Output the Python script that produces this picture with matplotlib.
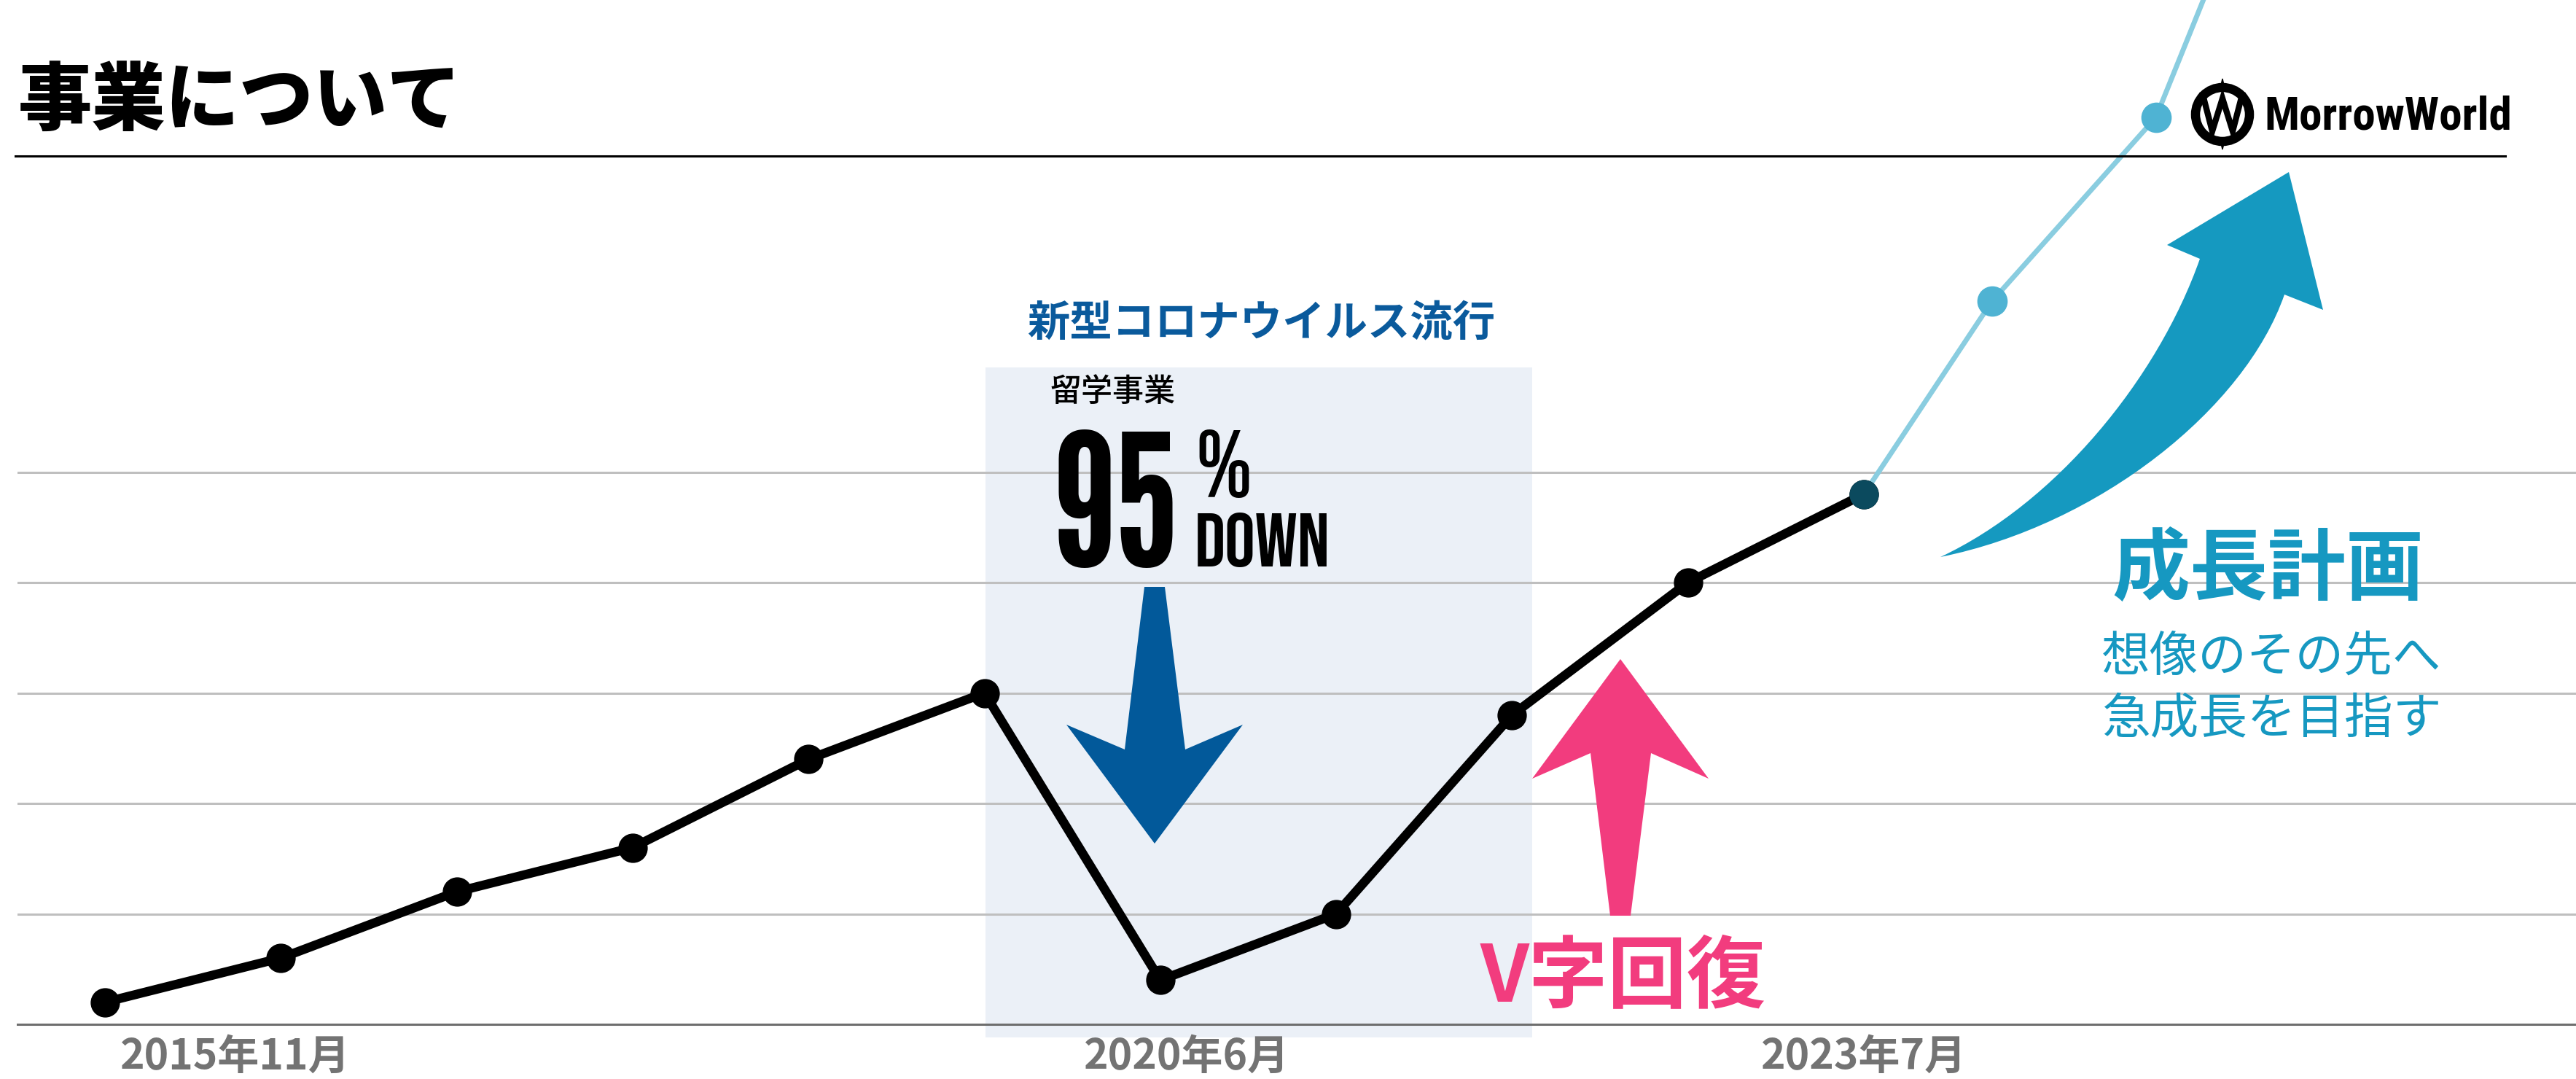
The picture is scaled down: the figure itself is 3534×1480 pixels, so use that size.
import matplotlib
matplotlib.use('Agg')
import matplotlib.pyplot as plt
from matplotlib.patches import Polygon, Rectangle, PathPatch, Ellipse
from matplotlib.path import Path
from matplotlib.textpath import TextPath
from matplotlib.font_manager import FontProperties
import numpy as np

W, H = 3534, 1480
JP = 'Noto Sans CJK JP'
COND = ['League Gothic', 'Bebas Neue', 'Oswald', 'DejaVu Sans']
COND2 = ['Bebas Neue', 'Oswald', 'DejaVu Sans']
LOGO = ['Roboto Condensed', 'Barlow Condensed', 'DejaVu Sans']

# sales trend (gridline units), one point per period
periods = np.arange(11)
sales = [0.2, 0.6, 1.2, 1.6, 2.4, 3.0, 0.4, 1.0, 2.8, 4.0, 4.8]

# growth plan (continues off the top)
plan_x = [10, 10.73, 11.66, 12.0]
plan_y = [4.8, 6.55, 8.21, 9.55]

tick_labels = ['2015年11月', '2020年6月', '2023年7月']
tick_pos = [0.74, 6.15, 10.0]

fig = plt.figure(figsize=(W / 100, H / 100), dpi=100)
fig.patch.set_facecolor('white')


def overlay(z):
    a = fig.add_axes([0, 0, 1, 1], zorder=z)
    a.set_xlim(0, W)
    a.set_ylim(H, 0)
    a.axis('off')
    a.patch.set_alpha(0)
    return a


def fit_size(s, prop, target_px):
    # font size (pt) giving an ink height of target_px at dpi 100
    e = TextPath((0, 0), s, size=100, prop=prop).get_extents()
    return 100 * target_px * 0.72 / e.height


bg = overlay(0)
bg.add_patch(Rectangle((1352, 504), 750, 919, color='#EBF0F7', lw=0))

# main chart
x0, xstep = 144, 241.3
base, ystep = 1405, 151.5
ax = fig.add_axes([24 / W, (H - base) / H, (W - 24) / W, base / H], zorder=1)
ax.patch.set_alpha(0)
ax.set_xlim((24 - x0) / xstep, (W - x0) / xstep)
ax.set_ylim(0, base / ystep)
ax.set_yticks([1, 2, 3, 4, 5])
ax.yaxis.grid(True, color='#BFBFBF', lw=2.2)
ax.tick_params(length=0, labelleft=False, labelbottom=False)
for s in ['top', 'right', 'left']:
    ax.spines[s].set_visible(False)
ax.spines['bottom'].set_color('#6E6E6E')
ax.spines['bottom'].set_linewidth(2.2)

ax.plot(plan_x, plan_y, color='#8ACDE0', lw=5, zorder=2)
ax.plot(plan_x[1:3], plan_y[1:3], 'o', color='#4FB3D3', ms=29, zorder=3)
ax.plot(periods, sales, color='black', lw=9, marker='o', ms=28, zorder=4,
        solid_joinstyle='miter')
ax.plot(periods[-1:], sales[-1:], 'o', color='#0B4A5E', ms=28, zorder=5)

fg = overlay(2)
fg.text(25, 140, '事業について', family=JP, weight='black', fontsize=73,
        va='center', ha='left', color='black')
fg.plot([21, 3437], [214, 214], color='black', lw=2.2)

for lab, p in zip(tick_labels, tick_pos):
    px = x0 + p * xstep
    fg.text(px, 1450, lab, family=JP, weight='bold', fontsize=41,
            color='#737373', ha='center', va='center')

# covid annotation
fg.text(1730, 443, '新型コロナウイルス流行', family=JP, weight='bold',
        fontsize=42, color='#0A5A9C', ha='center', va='center')
fg.text(1440, 537, '留学事業', family=JP, weight='medium', fontsize=31,
        color='black', ha='left', va='center')
for s, fam, x, y, h in [('95', COND, 1444, 777, 189),
                        ('%', COND2, 1640, 682, 94),
                        ('DOWN', COND2, 1639, 777, 75)]:
    cp = FontProperties(family=fam, weight='bold')
    fg.text(x, y, s, family=fam, weight='bold', fontsize=fit_size(s, cp, h),
            color='black', ha='left', va='baseline')

fg.add_patch(Polygon([(1570, 805), (1598, 805), (1626, 1028), (1705, 994),
                      (1584, 1157), (1463, 994), (1543, 1028)],
                     closed=True, color='#02599A', lw=0))

# V recovery
fg.add_patch(Polygon([(2223, 904), (2344, 1068), (2265, 1033), (2237, 1256),
                      (2209, 1256), (2182, 1033), (2102, 1068)],
                     closed=True, color='#F23C7E', lw=0))
fg.text(2227, 1343, 'V字回復', family=JP, weight='bold', fontsize=78,
        color='#F23C7E', ha='center', va='center')

# curved growth arrow
verts = [(2662, 764), (2880, 720), (3080, 560), (3134, 404),
         (3187, 425), (3140, 236), (2973, 336), (3018, 355),
         (2960, 520), (2820, 690), (2662, 764), (2662, 764)]
codes = [Path.MOVETO, Path.CURVE4, Path.CURVE4, Path.CURVE4,
         Path.LINETO, Path.LINETO, Path.LINETO, Path.LINETO,
         Path.CURVE4, Path.CURVE4, Path.CURVE4, Path.CLOSEPOLY]
fg.add_patch(PathPatch(Path(verts, codes), color='#1599C0', lw=0))

fg.text(3111, 783, '成長計画', family=JP, weight='bold', fontsize=77,
        color='#1698C1', ha='center', va='center')
fg.text(3116, 902, '想像のその先へ', family=JP, weight='regular', fontsize=48,
        color='#1698C1', ha='center', va='center')
fg.text(3116, 987, '急成長を目指す', family=JP, weight='regular', fontsize=48,
        color='#1698C1', ha='center', va='center')

# logo
fg.add_patch(Ellipse((3049, 157), 74, 74, fill=False, ec='black', lw=9))
fg.add_patch(Polygon([(3049, 108), (3053, 125), (3045, 125)], color='black'))
fg.add_patch(Polygon([(3049, 205), (3053, 189), (3045, 189)], color='black'))
fg.plot([3022, 3035, 3049, 3063, 3076], [130, 180, 135, 180, 130],
        color='black', lw=6, solid_joinstyle='miter')
lp = FontProperties(family=LOGO, weight='bold')
fg.text(3106, 178, 'MorrowWorld', family=LOGO, weight='bold',
        fontsize=fit_size('MW', lp, 45), color='black', ha='left',
        va='baseline')

fig.savefig('out.png', dpi=100)
